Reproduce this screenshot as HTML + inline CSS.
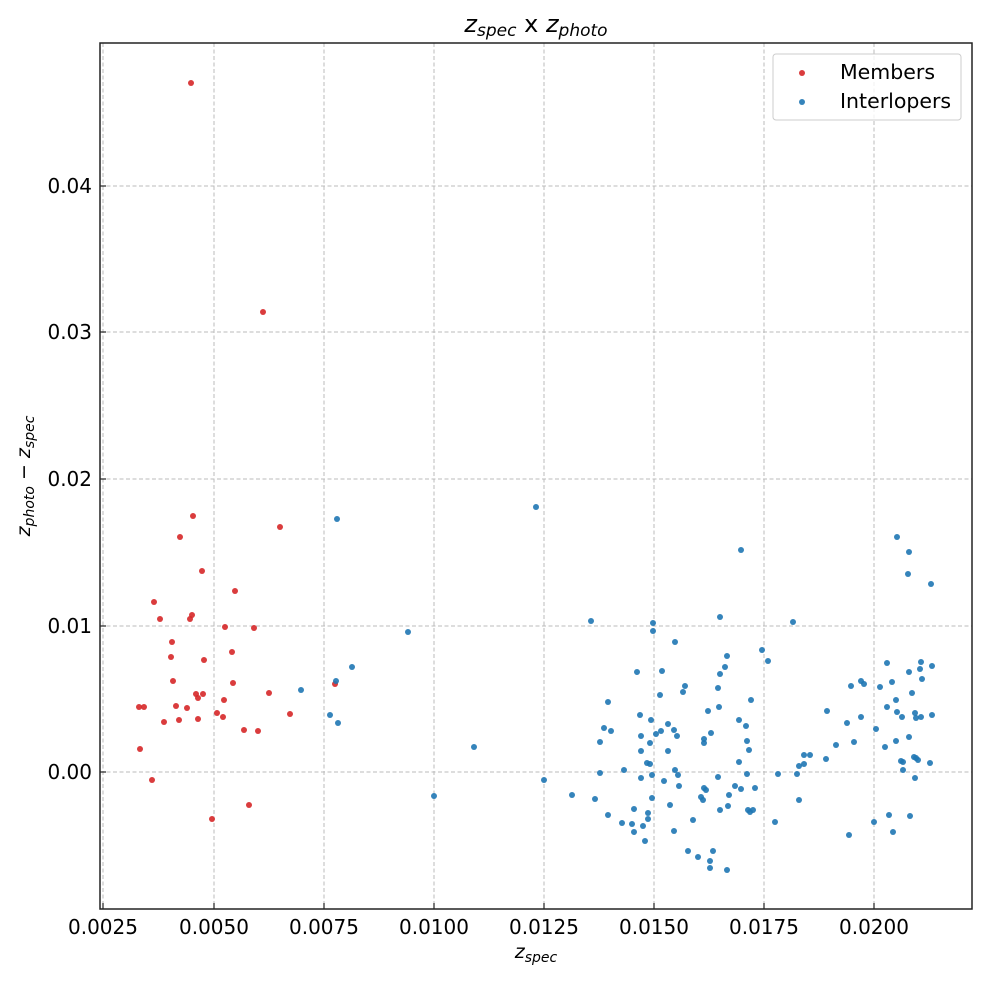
<!DOCTYPE html>
<html><head><meta charset="utf-8"><style>
body{margin:0;background:#fff;}
svg{display:block;font-family:"DejaVu Sans","Liberation Sans",sans-serif;}
</style></head><body>
<svg id="s" width="986" height="983" viewBox="0 0 986 983" xmlns="http://www.w3.org/2000/svg">
<rect width="986" height="983" fill="#fff"/>
<g stroke="#b0b0b0" stroke-width="1" stroke-dasharray="4,2.5" opacity="0.85">
<line x1="103" y1="43" x2="103" y2="909"/><line x1="214" y1="43" x2="214" y2="909"/>
<line x1="324" y1="43" x2="324" y2="909"/><line x1="434" y1="43" x2="434" y2="909"/>
<line x1="544" y1="43" x2="544" y2="909"/><line x1="654" y1="43" x2="654" y2="909"/>
<line x1="764" y1="43" x2="764" y2="909"/><line x1="874" y1="43" x2="874" y2="909"/>
<line x1="100" y1="772" x2="972" y2="772"/><line x1="100" y1="626" x2="972" y2="626"/>
<line x1="100" y1="479" x2="972" y2="479"/><line x1="100" y1="332" x2="972" y2="332"/>
<line x1="100" y1="186" x2="972" y2="186"/>
</g>
<g id="pts"></g>
<rect x="100" y="43" width="872" height="866" fill="none" stroke="#222" stroke-width="1.5"/>
<g stroke="#222" stroke-width="1.2">
<line x1="103" y1="909" x2="103" y2="903"/><line x1="214" y1="909" x2="214" y2="903"/>
<line x1="324" y1="909" x2="324" y2="903"/><line x1="434" y1="909" x2="434" y2="903"/>
<line x1="544" y1="909" x2="544" y2="903"/><line x1="654" y1="909" x2="654" y2="903"/>
<line x1="764" y1="909" x2="764" y2="903"/><line x1="874" y1="909" x2="874" y2="903"/>
<line x1="100" y1="772" x2="106" y2="772"/><line x1="100" y1="626" x2="106" y2="626"/>
<line x1="100" y1="479" x2="106" y2="479"/><line x1="100" y1="332" x2="106" y2="332"/>
<line x1="100" y1="186" x2="106" y2="186"/>
</g>
<g font-size="20" fill="#000" text-anchor="middle">
<text x="103" y="934">0.0025</text><text x="214" y="934">0.0050</text>
<text x="324" y="934">0.0075</text><text x="434" y="934">0.0100</text>
<text x="544" y="934">0.0125</text><text x="654" y="934">0.0150</text>
<text x="764" y="934">0.0175</text><text x="874" y="934">0.0200</text>
</g>
<g font-size="20" fill="#000" text-anchor="end">
<text x="92" y="779">0.00</text><text x="92" y="633">0.01</text>
<text x="92" y="486">0.02</text><text x="92" y="339">0.03</text>
<text x="92" y="193">0.04</text>
</g>
<text x="536" y="32" font-size="24" text-anchor="middle"><tspan font-style="italic">z</tspan><tspan font-size="17" dy="4" font-style="italic">spec</tspan><tspan dy="-4"> x </tspan><tspan font-style="italic">z</tspan><tspan font-size="17" dy="4" font-style="italic">photo</tspan></text>
<text x="536" y="958" font-size="19" text-anchor="middle"><tspan font-style="italic">z</tspan><tspan font-size="14" dy="4" font-style="italic">spec</tspan></text>
<text transform="translate(30,476) rotate(-90)" font-size="19" text-anchor="middle"><tspan font-style="italic">z</tspan><tspan font-size="14" dy="4" font-style="italic">photo</tspan><tspan dy="-4"> − </tspan><tspan font-style="italic">z</tspan><tspan font-size="14" dy="4" font-style="italic">spec</tspan></text>
<rect x="773" y="54" width="188" height="66" rx="3" fill="#fff" fill-opacity="0.8" stroke="#ccc"/>
<circle cx="802" cy="73" r="3" fill="#d62728" fill-opacity="0.9"/>
<circle cx="802" cy="102" r="3" fill="#1f77b4" fill-opacity="0.9"/>
<text x="840" y="79" font-size="20.5">Members</text>
<text x="840" y="108" font-size="20.5">Interlopers</text>
</svg>
<script>
var red=[[191,83],[263,312],[193,516],[180,537],[280,527],[202,571],[235,591],[154,602],[160,619],[190,619],[192,615],[225,627],[254,628],[172,642],[232,652],[171,657],[204,660],[173,681],[233,683],[196,694],[198,698],[203,694],[269,693],[224,700],[176,706],[187,708],[139,707],[144,707],[164,722],[179,720],[198,719],[217,713],[223,717],[290,714],[244,730],[258,731],[140,749],[152,780],[249,805],[212,819],[335,684]];
var blue=[[337,519],[536,507],[352,667],[336,681],[301,690],[330,715],[338,723],[408,632],[474,747],[434,796],[544,780],[572,795],[741,550],[897,537],[909,552],[908,574],[931,584],
[591,621],[653,623],[653,631],[720,617],[793,622],[675,642],[762,650],[768,661],[727,656],[725,667],[720,674],[637,672],[662,671],[685,686],[683,692],[718,688],[660,695],[751,700],[719,707],[608,702],[640,715],[651,720],[708,711],[739,720],[746,726],[668,724],[674,730],[677,736],[661,731],[656,734],[604,728],[611,731],[641,736],[650,743],[600,742],[704,739],[704,743],[711,733],[747,741],[749,750],[641,751],[668,751],[647,763],[650,764],[739,762],[600,773],[624,770],[641,778],[652,775],[675,770],[678,775],[718,777],[747,774],[664,781],[679,786],[735,786],[741,789],[755,788],[704,788],[706,790],[701,797],[703,800],[729,795],[652,798],[595,799],[670,805],[634,809],[728,806],[720,810],[748,810],[750,812],[753,810],[608,815],[648,813],[648,819],[622,823],[632,824],[643,826],[634,832],[674,831],[693,820],[775,822],[645,841],[688,851],[698,857],[713,851],[710,861],[710,868],[727,870],
[827,711],[847,723],[861,717],[836,745],[854,742],[826,759],[804,755],[810,755],[804,764],[799,766],[778,774],[797,774],[799,800],[849,835],[874,822],[889,815],[893,832],[910,816],[851,686],[861,681],[864,684],[887,663],[880,687],[892,682],[909,672],[921,662],[920,669],[932,666],[922,679],[912,693],[896,700],[887,707],[897,712],[902,717],[915,713],[916,718],[921,717],[932,715],[876,729],[909,737],[896,741],[885,747],[901,761],[903,762],[914,757],[916,758],[918,760],[930,763],[903,770],[915,778]];
var g=document.getElementById('pts'),h='';
red.forEach(function(p){h+='<circle cx="'+p[0]+'" cy="'+p[1]+'" r="3" fill="#d62728" fill-opacity="0.9"/>';});
blue.forEach(function(p){h+='<circle cx="'+p[0]+'" cy="'+p[1]+'" r="3" fill="#1f77b4" fill-opacity="0.9"/>';});
g.innerHTML=h;
</script>
</body></html>
